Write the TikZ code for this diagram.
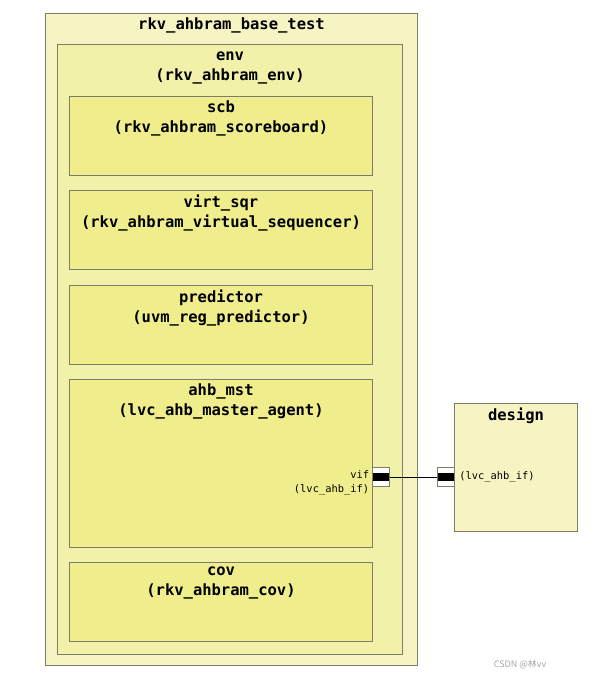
\documentclass[tikz,border=0pt]{standalone}
\usepackage{fontspec}
\setmonofont{DejaVu Sans Mono}
\newfontfamily\cjkfont{Noto Sans CJK SC}
\usepackage{xcolor}
\usetikzlibrary{positioning}

\definecolor{boxline}{RGB}{125,125,105}
\definecolor{fillA}{RGB}{246,244,194}
\definecolor{fillB}{RGB}{242,241,170}
\definecolor{fillC}{RGB}{240,238,140}

\tikzset{
  blk/.style={draw=boxline, line width=1pt, anchor=north west, inner sep=0pt},
  ttl/.style={align=center, inner sep=2pt, yshift=-3pt, font=\ttfamily\bfseries\fontsize{15.5}{19.5}\selectfont},
  lbl/.style={inner sep=1pt, font=\ttfamily\fontsize{10.4}{14}\selectfont},
  port/.style={draw=boxline, fill=white, minimum width=17pt, minimum height=19pt, inner sep=0pt,
    path picture={\fill[black] ([yshift=-4pt]path picture bounding box.west) rectangle ([yshift=4pt]path picture bounding box.east);}},
}

\begin{document}
\begin{tikzpicture}[x=1pt, y=-1pt]
\useasboundingbox (0,0) rectangle (595,679);
% test and env
\node[blk, fill=fillA, minimum width=372pt, minimum height=652pt] (test) at (45,13) {};
\node[ttl, below=0pt of test.north] (testname) {rkv\_ahbram\_base\_test};
\node[blk, fill=fillB, minimum width=345pt, minimum height=610pt] (env) at (57,44) {};
\node[ttl, below=0pt of env.north, yshift=-3pt] (envname) {env\\(rkv\_ahbram\_env)};
% components of env
\node[blk, fill=fillC, minimum width=303pt, minimum height=79pt] (scb) at (69,96) {};
\node[ttl, below=0pt of scb.north] (scbname) {scb\\(rkv\_ahbram\_scoreboard)};
\node[blk, fill=fillC, minimum width=303pt, minimum height=79pt] (virt) at (69,190) {};
\node[ttl, below=0pt of virt.north] (virtname) {virt\_sqr\\(rkv\_ahbram\_virtual\_sequencer)};
\node[blk, fill=fillC, minimum width=303pt, minimum height=79pt] (pred) at (69,285) {};
\node[ttl, below=0pt of pred.north] (predname) {predictor\\(uvm\_reg\_predictor)};
\node[blk, fill=fillC, minimum width=303pt, minimum height=168pt] (mst) at (69,379) {};
\node[ttl, below=0pt of mst.north] (mstname) {ahb\_mst\\(lvc\_ahb\_master\_agent)};
\node[blk, fill=fillC, minimum width=303pt, minimum height=79pt] (cov) at (69,562) {};
\node[ttl, below=0pt of cov.north] (covname) {cov\\(rkv\_ahbram\_cov)};
% design
\node[blk, fill=fillA, minimum width=123pt, minimum height=128pt] (design) at (454,403) {};
\node[ttl, below=0pt of design.north] (designname) {design};
% interface
\node[port] (vifport) at (381,477) {};
\node[port] (dutport) at (445.5,477) {};
\draw[line width=0.6pt] (vifport) -- (dutport);
\node[lbl, align=right, anchor=north east] (vifname) at ([xshift=-2pt, yshift=8pt]vifport.west) {vif\\(lvc\_ahb\_if)};
\node[lbl, anchor=west] (dutname) at ([xshift=4pt]dutport.east) {(lvc\_ahb\_if)};
% watermark
\node[text=gray!70, font=\cjkfont\fontsize{9}{11}\selectfont] (mark) at (520,664) {CSDN @林vv};
\end{tikzpicture}
\end{document}
